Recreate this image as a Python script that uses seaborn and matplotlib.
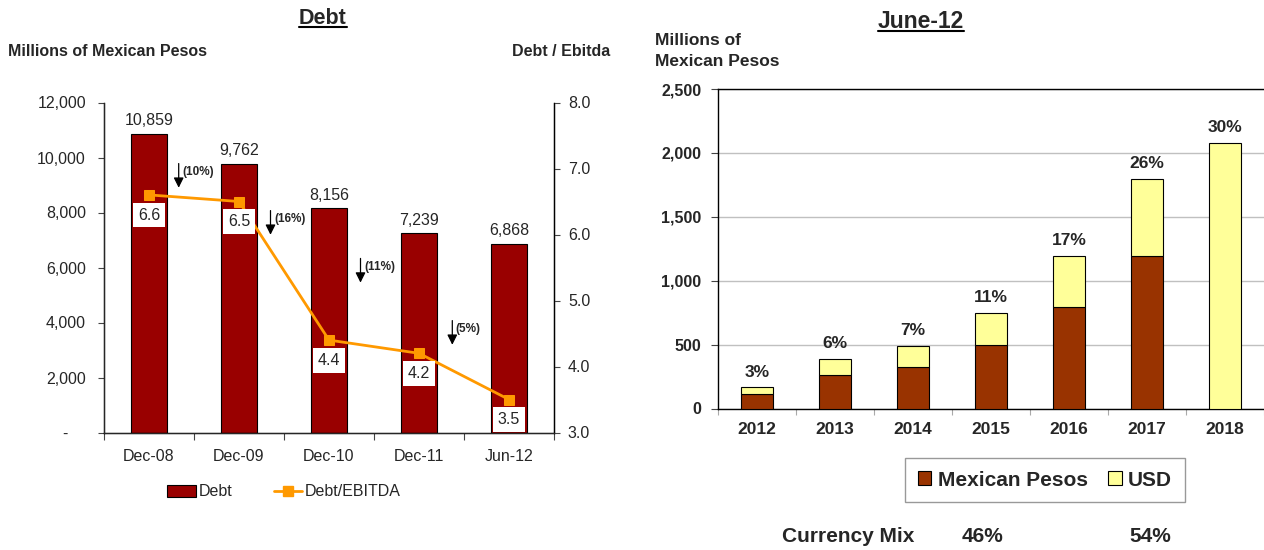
import matplotlib
matplotlib.use("Agg")
import matplotlib.pyplot as plt
from matplotlib.lines import Line2D
from matplotlib.patches import Patch
from matplotlib.ticker import FuncFormatter, FixedLocator
import numpy as np
import pandas as pd
import seaborn as sns

# Debt history
periods = ["Dec-08", "Dec-09", "Dec-10", "Dec-11", "Jun-12"]
debt = [10859, 9762, 8156, 7239, 6868]
debt_ebitda = [6.6, 6.5, 4.4, 4.2, 3.5]
debt_change = ["(10%)", "(16%)", "(11%)", "(5%)"]

# Maturity profile (millions of MXN)
years = ["2012", "2013", "2014", "2015", "2016", "2017", "2018"]
mxn = [110, 260, 325, 500, 795, 1195, 0]
usd = [56, 131, 164, 247, 400, 600, 2080]
share_labels = ["3%", "6%", "7%", "11%", "17%", "26%", "30%"]
mix_labels = ["46%", "54%"]

# where the change arrows sit (x in category units, top of arrow in MXN)
arrow_spots = [(0.33, 9780), (1.35, 8070), (2.35, 6330), (3.37, 4070)]

DEBT_RED = "#990000"
ORANGE = "#FF9900"
PESO_BROWN = "#993300"
USD_YELLOW = "#FFFF99"

sns.set_style("white")
plt.rcParams["font.family"] = ["Liberation Sans", "DejaVu Sans"]

W, H = 1264, 550
fig = plt.figure(figsize=(W / 100, H / 100), dpi=100)


def px_rect(x0, y_top, x1, y_bottom):
    return [x0 / W, 1 - y_bottom / H, (x1 - x0) / W, (y_bottom - y_top) / H]


# ---------------- left panel: debt and leverage ----------------
ax = fig.add_axes(px_rect(104, 102.5, 554, 432.5))
df_debt = pd.DataFrame({"period": periods, "debt": debt})
sns.barplot(data=df_debt, x="period", y="debt", color=DEBT_RED, saturation=1,
            width=0.4, edgecolor="black", linewidth=0.8, errorbar=None, ax=ax)
ax.set_xlim(-0.5, len(periods) - 0.5)
ax.set_ylim(0, 12000)
ax.set_yticks(np.arange(0, 12001, 2000))
ax.yaxis.set_major_formatter(FuncFormatter(
    lambda v, _: "-\u2007\u2007" if v == 0 else f"{v:,.0f}"))
ax.set_xlabel("")
ax.set_ylabel("")
ax.xaxis.set_minor_locator(FixedLocator(np.arange(-0.5, len(periods), 1.0)))
ax.tick_params(axis="x", which="major", length=0, pad=12, labelsize=11.5)
ax.tick_params(axis="x", which="minor", length=5, width=0.8, color="#444444",
               direction="out", bottom=True)
ax.tick_params(axis="y", length=4, width=0.8, direction="out", left=True,
               pad=9, labelsize=11.5, color="#444444")
ax.spines["top"].set_visible(False)
for s in ("left", "bottom", "right"):
    ax.spines[s].set_color("black")
    ax.spines[s].set_linewidth(1)

for i, v in enumerate(debt):
    ax.annotate(f"{v:,}", (i, v), xytext=(0, 4), textcoords="offset points",
                ha="center", va="bottom", fontsize=11.5)

for (x, ytop), lab in zip(arrow_spots, debt_change):
    ax.annotate("", xy=(x, ytop - 880), xytext=(x, ytop),
                arrowprops=dict(arrowstyle="-|>,head_length=0.6,head_width=0.3",
                                color="black", lw=0.9, shrinkA=0, shrinkB=0,
                                mutation_scale=10))
    ax.annotate(lab, (x, ytop), xytext=(2.5, -6), textcoords="offset points",
                ha="left", va="center", fontsize=8.5, fontweight="bold")

ax2 = ax.twinx()
sns.lineplot(x=np.arange(len(periods)), y=debt_ebitda, color=ORANGE, lw=2,
             marker="s", markersize=7, markeredgecolor=ORANGE, sort=False,
             legend=False, ax=ax2)
ax2.set_ylim(3, 8)
ax2.set_yticks(np.arange(3, 8.01, 1))
ax2.yaxis.set_major_formatter(FuncFormatter(lambda v, _: f"{v:.1f}"))
ax2.tick_params(axis="y", length=4, width=0.8, direction="out", right=True,
                pad=6, labelsize=11.5, color="#444444")
ax2.spines["top"].set_visible(False)
ax2.spines["right"].set_color("black")
ax2.set_ylabel("")
for i, v in enumerate(debt_ebitda):
    ax2.annotate(f"{v:.1f}", (i, v), xytext=(0, -14.5), textcoords="offset points",
                 ha="center", va="center", fontsize=11.5,
                 bbox=dict(boxstyle="square,pad=0.3", fc="white", ec="none"))

fig.text(8 / W, 1 - 52 / H, "Millions of Mexican Pesos", ha="left", va="center",
         fontsize=11.5, fontweight="bold")
fig.text(610 / W, 1 - 52 / H, "Debt / Ebitda", ha="right", va="center",
         fontsize=11.5, fontweight="bold")

fig.legend(handles=[Patch(facecolor=DEBT_RED, edgecolor="black", linewidth=0.8),
                    Line2D([], [], color=ORANGE, lw=2, marker="s", markersize=7)],
           labels=["Debt", "Debt/EBITDA"], loc="center",
           bbox_to_anchor=(284 / W, 1 - 492 / H), ncol=2, frameon=False,
           fontsize=11.5, handlelength=1.8, handletextpad=0.15,
           columnspacing=2.6)

# ---------------- right panel: maturity profile ----------------
axr = fig.add_axes(px_rect(718, 89, 1264, 408.5))
df_mat = pd.DataFrame({"year": years, "mxn": mxn, "usd": usd})
sns.barplot(data=df_mat, x="year", y="mxn", color=PESO_BROWN, saturation=1,
            width=0.4, edgecolor="black", linewidth=0.8, errorbar=None,
            zorder=3, ax=axr)
sns.barplot(data=df_mat, x="year", y="usd", bottom=df_mat["mxn"].to_numpy(),
            color=USD_YELLOW, saturation=1, width=0.4, edgecolor="black",
            linewidth=0.8, errorbar=None, zorder=3, ax=axr)
axr.set_xlim(-0.5, len(years) - 0.5)
axr.set_ylim(0, 2500)
axr.set_yticks(np.arange(0, 2501, 500))
axr.yaxis.set_major_formatter(FuncFormatter(lambda v, _: f"{v:,.0f}"))
axr.set_xlabel("")
axr.set_ylabel("")
axr.grid(axis="y", color="#c0c0c0", lw=1, zorder=0)
axr.set_axisbelow(True)
axr.xaxis.set_minor_locator(FixedLocator(np.arange(-0.5, len(years), 1.0)))
axr.tick_params(axis="x", which="major", length=0, pad=10, labelsize=12.5)
axr.tick_params(axis="x", which="minor", length=4, width=0.8, color="#aaaaaa",
                direction="out", bottom=True)
axr.tick_params(axis="y", length=5, width=0.8, direction="out", left=True,
                pad=7, labelsize=11.5, color="#444444")
for lab in axr.get_xticklabels() + axr.get_yticklabels():
    lab.set_fontweight("bold")
axr.spines["right"].set_visible(False)
for s in ("left", "bottom", "top"):
    axr.spines[s].set_color("black")
    axr.spines[s].set_linewidth(1)

totals = [a + b for a, b in zip(mxn, usd)]
for i, (t, lab) in enumerate(zip(totals, share_labels)):
    axr.annotate(lab, (i, t), xytext=(0, 5.5), textcoords="offset points",
                 ha="center", va="bottom", fontsize=12.5, fontweight="bold")

fig.text(655 / W, 1 - 51 / H, "Millions of\nMexican Pesos", ha="left",
         va="center", fontsize=12.5, fontweight="bold", linespacing=1.45)

fig.legend(handles=[Patch(facecolor=PESO_BROWN, edgecolor="black", linewidth=0.8),
                    Patch(facecolor=USD_YELLOW, edgecolor="black", linewidth=0.8)],
           labels=["Mexican Pesos", "USD"], loc="center",
           bbox_to_anchor=(1045 / W, 1 - 480 / H), ncol=2, frameon=True,
           fancybox=False, edgecolor="#999999", framealpha=1,
           prop=dict(size=15, weight="bold"), handlelength=0.65,
           handleheight=0.65, handletextpad=0.3, columnspacing=1.0,
           borderpad=0.6, borderaxespad=0)

fig.text(848 / W, 1 - 537 / H, "Currency Mix", ha="center", va="center",
         fontsize=15, fontweight="bold")
for xpix, lab in zip((983, 1150), mix_labels):
    fig.text(xpix / W, 1 - 537 / H, lab, ha="center", va="center",
             fontsize=15, fontweight="bold")

# ---------------- underlined panel titles ----------------
titles = [fig.text(323 / W, 1 - 19 / H, "Debt", ha="center", va="center",
                   fontsize=15.5, fontweight="bold"),
          fig.text(921 / W, 1 - 22 / H, "June-12", ha="center", va="center",
                   fontsize=16.5, fontweight="bold")]
fig.canvas.draw()
inv = fig.transFigure.inverted()
for t in titles:
    bb = t.get_window_extent().transformed(inv)
    y = bb.y0 + 2.5 / H
    fig.add_artist(Line2D([bb.x0, bb.x1], [y, y], color="black", lw=1.5,
                          transform=fig.transFigure))

fig.savefig("out.png", dpi=100)
